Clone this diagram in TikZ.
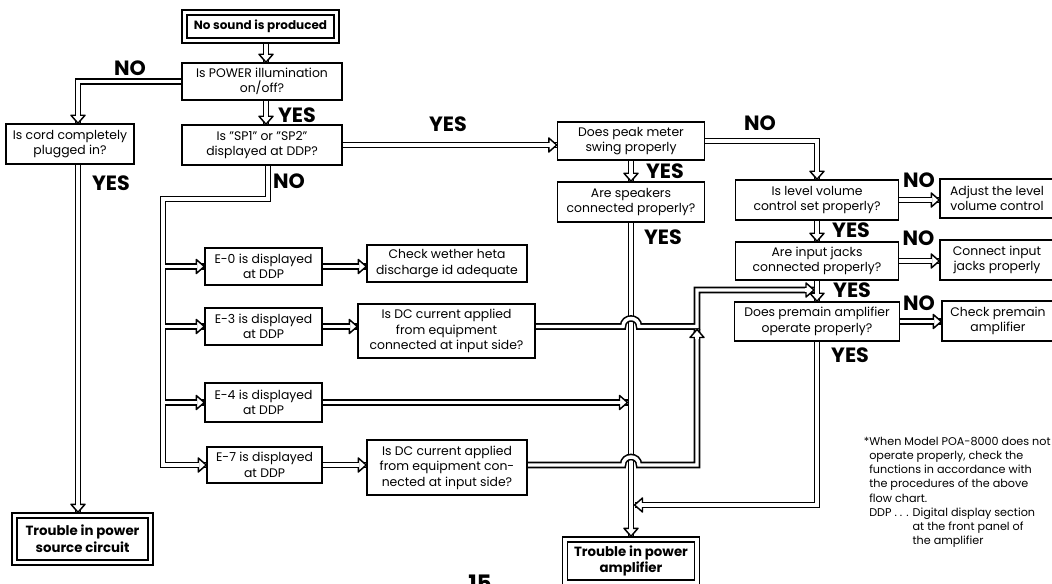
\documentclass[tikz,border=0pt]{standalone}
\usepackage{fontspec}
\setmainfont{Poppins}
\usetikzlibrary{decorations.markings}
\pgfdeclarelayer{lines}
\pgfdeclarelayer{boxes}
\pgfsetlayers{lines,main,boxes}
\newcommand\dconn[2][]{%
  \begin{pgfonlayer}{lines}\draw[outerl] #2;\end{pgfonlayer}%
  \draw[innerl,#1] #2;}
\newcommand\fconn[2][]{\draw[outerl] #2; \draw[innerl,#1] #2;}
\tikzset{
  box/.style={draw, line width=1.1pt, fill=white, align=center, inner sep=0pt,
    font=\fontsize{9.3}{11.6}\selectfont},
  wh/.style 2 args={minimum width=#1*0.75pt, minimum height=#2*0.75pt},
  dbox/.style={box, double, double distance=2.8pt, line width=1pt, outer sep=2.4pt,
    font=\bfseries\fontsize{10}{12.5}\selectfont},
  lbl/.style={font=\bfseries\fontsize{15.5}{15.5}\selectfont, inner sep=0pt},
  outerl/.style={line width=5pt, black},
  innerl/.style={line width=2.6pt, white},
  tip/.style={postaction={decorate, decoration={markings, mark=at position 1 with {
     \draw[black, line width=1.1pt, fill=white, line join=round] (-6pt,5.25pt) -- (0pt,0pt) -- (-6pt,-5.25pt) -- cycle;
     \fill[white] (-6.8pt,-1.3pt) rectangle (-5.1pt,1.3pt);}}}},
}
\begin{document}
\begin{tikzpicture}[x=0.75pt,y=-0.75pt]
\useasboundingbox (0,0) rectangle (1052,584);
\begin{pgfonlayer}{boxes}
\clip (0,0) rectangle (1052,584);
\node[dbox, wh={152}{28}, font=\bfseries\fontsize{9}{11}\selectfont] (nosound) at (260.5,26.5) {No sound is produced};
\node[box, wh={160}{37}] (power) at (262,81.5) {Is POWER illumination\\on/off?};
\node[box, wh={128}{40}] (cord) at (70,144) {Is cord completely\\plugged in?};
\node[box, wh={160}{40}] (sp) at (262,145) {Is "SP1" or "SP2"\\displayed at DDP?};
\node[box, wh={147}{38}] (peak) at (631,141) {Does peak meter\\swing properly};
\node[box, wh={147}{40}] (spk) at (631,202) {Are speakers\\connected properly?};
\node[box, wh={163}{40}] (level) at (817,200) {Is level volume\\control set properly?};
\node[box, wh={114}{39}] (adjust) at (997,198.5) {Adjust the level\\volume control};
\node[box, wh={163}{38}] (input) at (817,261) {Are input jacks\\connected properly?};
\node[box, wh={114}{40}] (connect) at (997,260) {Connect input\\jacks properly};
\node[box, wh={165}{39}] (premain) at (817,321.5) {Does premain amplifier\\operate properly?};
\node[box, wh={112}{40}] (chkpre) at (998,321) {Check premain\\amplifier};
\node[box, wh={117}{37}] (e0) at (263.5,266.5) {E-0 is displayed\\at DDP};
\node[box, wh={160}{37}] (heta) at (447,263.5) {Check wether heta\\discharge id adequate};
\node[box, wh={117}{37}] (e3) at (263.5,326.5) {E-3 is displayed\\at DDP};
\node[box, wh={177}{54}] (dc1) at (446.5,331) {Is DC current applied\\from equipment\\connected at input side?};
\node[box, wh={117}{39}] (e4) at (263.5,402.5) {E-4 is displayed\\at DDP};
\node[box, wh={115}{36}] (e7) at (264.5,465) {E-7 is displayed\\at DDP};
\node[box, wh={160}{55}] (dc2) at (447,467.5) {Is DC current applied\\from equipment con-\\nected at input side?};
\node[dbox, wh={136}{47}] (tps) at (82.5,539) {Trouble in power\\source circuit};
\node[dbox, wh={132}{43}] (tpa) at (631,561) {Trouble in power\\amplifier};
\node[anchor=north west, align=left, inner sep=0pt, font=\fontsize{8.4}{10.6}\selectfont] (note) at (869,437)
 {\llap{*}When Model POA-8000 does not\\operate properly, check the\\functions in accordance with\\the procedures of the above\\flow chart.\\DDP . . . Digital display section\\\phantom{DDP . . . }at the front panel of\\\phantom{DDP . . . }the amplifier};
\node[font=\bfseries\fontsize{17}{17}\selectfont, anchor=north, inner sep=0pt] (pg) at (480,575) {15};
\end{pgfonlayer}

\coordinate (cx) at (78,0);
\coordinate (vx) at (266,0);
\coordinate (vx2) at (268,0);
\coordinate (tk) at (163,199);
\coordinate (j1) at (814,290);
\coordinate (j2) at (697,329.5);
\coordinate (j3) at (627.5,402.5);
\coordinate (j4) at (634.5,505);

\dconn[tip]{(vx |- nosound.south) -- (vx |- power.north)}
\dconn[tip]{(power.west) -| (cx |- cord.north)}
\dconn[tip]{(vx |- power.south) -- (vx |- sp.north)}
\dconn[tip]{(cx |- cord.south) -- (cx |- tps.north)}
\dconn[tip]{(sp.east) -- (sp.east -| peak.west)}
\dconn[tip]{(peak.east) -| (level.north)}
\dconn[tip]{(peak.south) -- (spk.north)}
\dconn[tip]{(spk.south) -- (tpa.north)}
\dconn[tip]{(level.east) -- (level.east -| adjust.west)}
\dconn[tip]{(level.south) -- (input.north)}
\dconn[tip]{(input.east) -- (input.east -| connect.west)}
\dconn[tip]{(input.south) -- (premain.north)}
\dconn[tip]{(premain.east) -- (premain.east -| chkpre.west)}
\dconn[tip]{(premain.south) |- (j4)}
\dconn[tip]{(vx2 |- sp.south) |- (tk) -- (tk |- e7.west) -- (e7.west)}
\dconn[tip]{(tk |- e0.west) -- (e0.west)}
\dconn[tip]{(tk |- e3.west) -- (e3.west)}
\dconn[tip]{(tk |- e4.west) -- (e4.west)}
\dconn[tip]{(e0.east) -- (e0.east -| heta.west)}
\dconn[tip]{(e3.east) -- (e3.east -| dc1.west)}
\dconn[tip]{(e4.east) -- (j3)}
\dconn[tip]{(e7.east) -- (e7.east -| dc2.west)}
\fconn[tip]{(dc1.east |- e3.east) -- (623,326.5) .. controls (623,315.8) and (639,315.8) .. (639,326.5) -- (697,326.5) |- (j1)}
\fconn[tip]{(dc2.east |- e7.east) -- (623,465) .. controls (623,454.3) and (639,454.3) .. (639,465) -- (697,465) -- (j2)}

\node[lbl] (l1) at (130,68.5) {NO};
\node[lbl] (l2) at (297,115) {YES};
\node[lbl] (l3) at (111,183) {YES};
\node[lbl] (l4) at (289,181.5) {NO};
\node[lbl] (l5) at (448,124.5) {YES};
\node[lbl] (l6) at (760,123.5) {NO};
\node[lbl] (l7) at (665,171.5) {YES};
\node[lbl] (l8) at (663,237) {YES};
\node[lbl] (l9) at (919,180) {NO};
\node[lbl] (l10) at (851,230) {YES};
\node[lbl] (l11) at (918.5,238.5) {NO};
\node[lbl] (l12) at (852,290.5) {YES};
\node[lbl] (l13) at (919,303.5) {NO};
\node[lbl] (l14) at (850,355.5) {YES};
\end{tikzpicture}
\end{document}
